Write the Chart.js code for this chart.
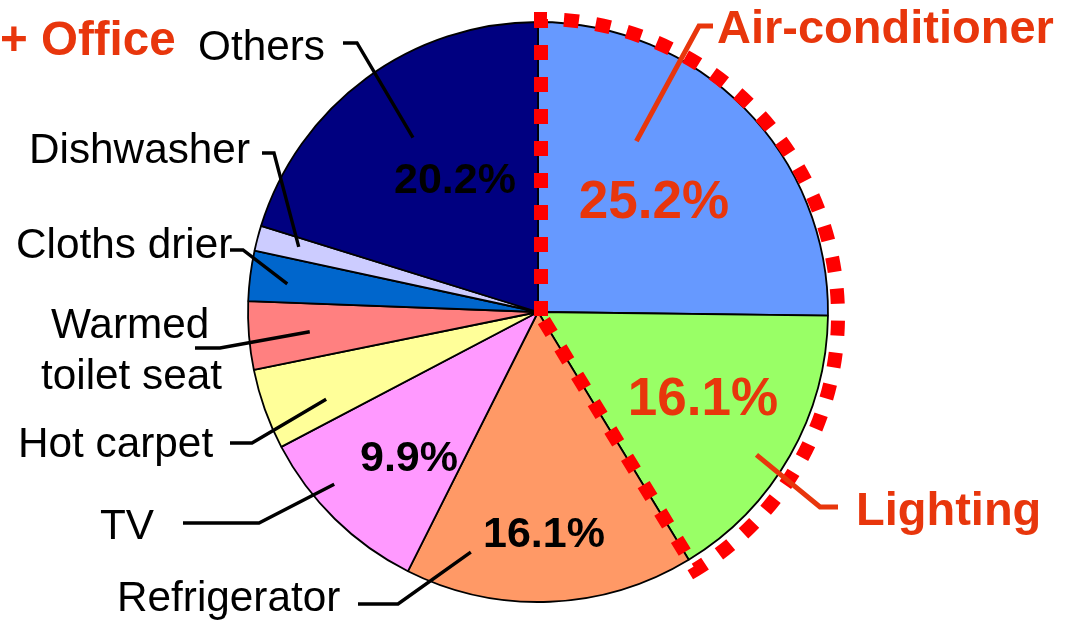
<!DOCTYPE html>
<html>
<head>
<meta charset="utf-8">
<script src="https://cdn.jsdelivr.net/npm/chart.js@4.4.0/dist/chart.umd.min.js"></script>
<style>
html,body{margin:0;padding:0;background:#ffffff;overflow:hidden}
canvas{display:block}
</style>
</head>
<body>
<canvas id="c" width="1077" height="621"></canvas>
<script>
// ---- data ----
const categories = ['Air-conditioner', 'Lighting', 'Refrigerator', 'TV', 'Hot carpet',
                    'Warmed toilet seat', 'Cloths drier', 'Dishwasher', 'Others'];
const shares = [25.2, 16.1, 16.1, 9.9, 4.5, 3.8, 2.8, 1.4, 20.2];
const showPercent = [true, true, true, true, false, false, false, false, true];
const highlighted = ['Air-conditioner', 'Lighting'];
const groupTitle = '+ Office';

// ---- styles ----
const sliceColors = ['#6699FF', '#99FF66', '#FF9966', '#FF99FF', '#FFFF99',
                     '#FF8080', '#0066CC', '#CCCCFF', '#000080'];
const RED_TEXT = '#E8360C';
const FONT = '"Liberation Sans", Arial, Helvetica, sans-serif';

// annotation layout: label text lines, baseline positions, leader line (outer, elbow), inner anchor (t within slice, f of radius)
const labelLayout = {
  'Air-conditioner':    {lines: ['Air-conditioner'], x: 717, y: 43, bold: true, size: 47, red: true,
                         outer: [713, 26], elbow: [699, 26], t: 0.33, f: 0.68},
  'Lighting':           {lines: ['Lighting'], x: 856, y: 525, bold: true, size: 47, red: true,
                         outer: [838, 507], elbow: [820, 507], t: 0.56, f: 0.90},
  'Refrigerator':       {lines: ['Refrigerator'], x: 117, y: 611, size: 42.3,
                         outer: [358, 604], elbow: [398, 604], t: 0.81, f: 0.86},
  'TV':                 {lines: ['TV'], x: 100, y: 539, size: 42.3,
                         outer: [183, 523], elbow: [259, 523], t: 0.65, f: 0.92},
  'Hot carpet':         {lines: ['Hot carpet'], x: 18, y: 457, size: 42.3,
                         outer: [230, 443], elbow: [252, 443], t: 0.33, f: 0.79},
  'Warmed toilet seat': {lines: ['Warmed', 'toilet seat'], xs: [51, 41], ys: [338, 389], size: 42.3,
                         outer: [195, 348], elbow: [220, 348], t: 0.48, f: 0.79},
  'Cloths drier':       {lines: ['Cloths drier'], x: 16, y: 258, size: 42.3,
                         outer: [230, 250], elbow: [243, 250], t: 0.42, f: 0.87},
  'Dishwasher':         {lines: ['Dishwasher'], x: 29, y: 163, size: 42.3,
                         outer: [262, 153], elbow: [274, 153], t: 0.59, f: 0.855},
  'Others':             {lines: ['Others'], x: 198, y: 60, size: 42.3,
                         outer: [343, 43], elbow: [357, 43], t: 0.51, f: 0.74}
};
const percentLayout = {
  'Air-conditioner': {x: 654, y: 218, size: 53, red: true},
  'Lighting':        {x: 703, y: 415, size: 53, red: true},
  'Refrigerator':    {x: 544, y: 547, size: 43},
  'TV':              {x: 409, y: 471, size: 43},
  'Others':          {x: 455, y: 193, size: 43}
};

const annotationPlugin = {
  id: 'annotations',
  afterDatasetsDraw(chart) {
    const ctx = chart.ctx;
    const arcs = chart.getDatasetMeta(0).data;
    const cx = arcs[0].x, cy = arcs[0].y, R = arcs[0].outerRadius;
    const polar = (i, t, f) => {
      const a = arcs[i];
      const ang = a.startAngle + t * (a.endAngle - a.startAngle);
      return [cx + Math.cos(ang) * R * f, cy + Math.sin(ang) * R * f];
    };

    // red dotted outline around highlighted slices
    const hi = highlighted.map(n => categories.indexOf(n));
    const sA = arcs[hi[0]].startAngle, eA = arcs[hi[hi.length - 1]].endAngle;
    const ox = cx + 3, oy = cy + 4, rr = R + 7;
    ctx.save();
    ctx.strokeStyle = '#FF0000';
    ctx.lineWidth = 14;
    ctx.lineCap = 'butt';
    ctx.lineJoin = 'miter';
    ctx.setLineDash([15, 17]);
    ctx.beginPath();
    ctx.moveTo(ox, oy);
    ctx.arc(ox, oy, rr, sA, eA);
    ctx.closePath();
    ctx.stroke();
    ctx.restore();

    // leader lines + labels
    categories.forEach((name, i) => {
      const L = labelLayout[name];
      if (!L) return;
      const inner = polar(i, L.t, L.f);
      ctx.save();
      ctx.strokeStyle = L.red ? RED_TEXT : '#000000';
      ctx.lineWidth = L.red ? 5 : 3.4;
      ctx.lineJoin = 'miter';
      ctx.beginPath();
      ctx.moveTo(L.outer[0], L.outer[1]);
      ctx.lineTo(L.elbow[0], L.elbow[1]);
      ctx.lineTo(inner[0], inner[1]);
      ctx.stroke();
      ctx.fillStyle = L.red ? RED_TEXT : '#000000';
      ctx.font = (L.bold ? 'bold ' : '') + L.size + 'px ' + FONT;
      ctx.textAlign = 'left';
      ctx.textBaseline = 'alphabetic';
      L.lines.forEach((ln, k) => {
        const x = L.xs ? L.xs[k] : L.x;
        const y = L.ys ? L.ys[k] : L.y;
        ctx.fillText(ln, x, y);
      });
      ctx.restore();
    });

    // percentage labels
    categories.forEach((name, i) => {
      if (!showPercent[i]) return;
      const P = percentLayout[name];
      ctx.save();
      ctx.fillStyle = P.red ? RED_TEXT : '#000000';
      ctx.font = 'bold ' + P.size + 'px ' + FONT;
      ctx.textAlign = 'center';
      ctx.textBaseline = 'alphabetic';
      ctx.fillText(shares[i].toFixed(1) + '%', P.x, P.y);
      ctx.restore();
    });

    // group title
    ctx.save();
    ctx.fillStyle = RED_TEXT;
    ctx.font = 'bold 47.5px ' + FONT;
    ctx.textAlign = 'left';
    ctx.textBaseline = 'alphabetic';
    ctx.fillText(groupTitle, 0, 55);
    ctx.restore();
  }
};

new Chart(document.getElementById('c'), {
  type: 'pie',
  data: {
    labels: categories,
    datasets: [{
      data: shares,
      backgroundColor: sliceColors,
      borderColor: '#000000',
      borderWidth: 1.8,
      radius: 290
    }]
  },
  options: {
    responsive: false,
    devicePixelRatio: 1,
    animation: false,
    events: [],
    layout: {padding: {left: 248, right: 249, top: 22, bottom: 19}},
    plugins: {legend: {display: false}, tooltip: {enabled: false}, title: {display: false}}
  },
  plugins: [annotationPlugin]
});
</script>
</body>
</html>
